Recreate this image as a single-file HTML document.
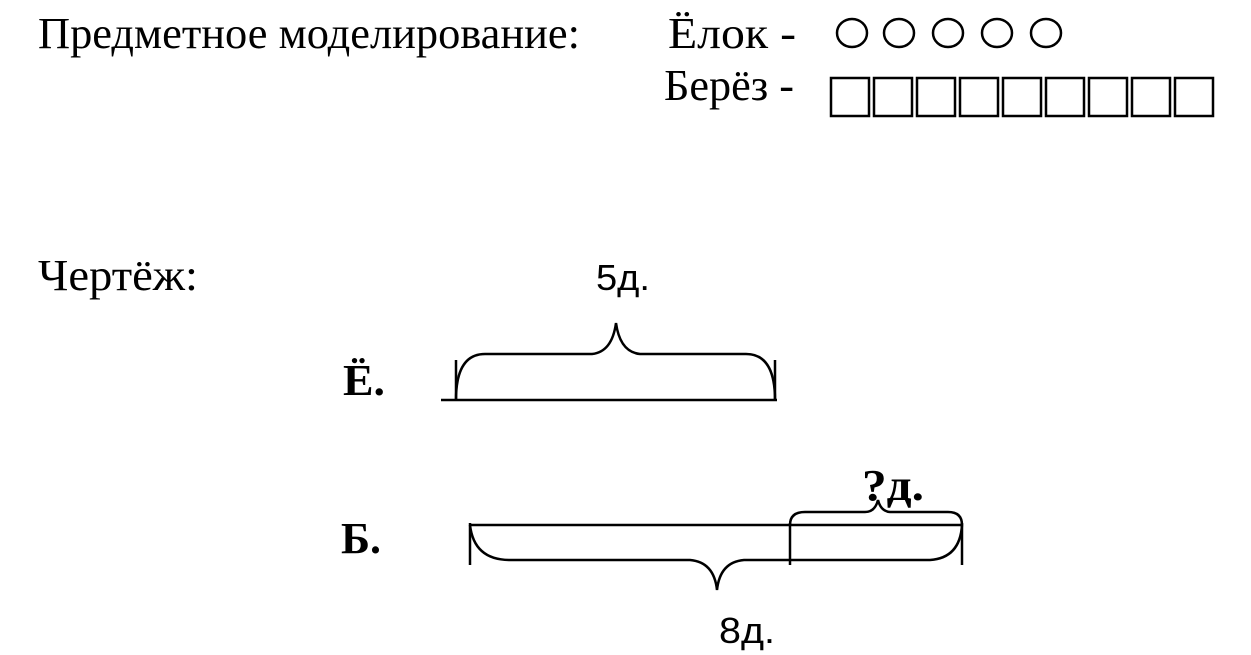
<!DOCTYPE html>
<html><head><meta charset="utf-8"><style>
html,body{margin:0;padding:0;background:#fff;width:1251px;height:655px;overflow:hidden}
</style></head><body>
<svg width="1251" height="655" viewBox="0 0 1251 655" xmlns="http://www.w3.org/2000/svg">
<g font-family="Liberation Serif, serif" font-size="44" fill="#000">
<text x="38" y="48" textLength="542" lengthAdjust="spacingAndGlyphs">Предметное моделирование:</text>
<text x="668" y="48" textLength="128" lengthAdjust="spacingAndGlyphs">Ёлок -</text>
<text x="664" y="100" textLength="130" lengthAdjust="spacingAndGlyphs">Берёз -</text>
<text x="38" y="290" textLength="160" lengthAdjust="spacingAndGlyphs">Чертёж:</text>
</g>
<g font-family="Liberation Serif, serif" font-weight="bold" fill="#000">
<text x="343" y="395" font-size="44" textLength="42" lengthAdjust="spacingAndGlyphs">Ё.</text>
<text x="341" y="553" font-size="44" textLength="40" lengthAdjust="spacingAndGlyphs">Б.</text>
<text x="862" y="500" font-size="44" textLength="62" lengthAdjust="spacingAndGlyphs">?д.</text>
</g>
<g font-family="Liberation Sans, sans-serif" font-size="36" fill="#000">
<text x="596" y="290" textLength="54" lengthAdjust="spacingAndGlyphs">5д.</text>
<text x="719" y="643" textLength="56" lengthAdjust="spacingAndGlyphs">8д.</text>
</g>
<g fill="none" stroke="#000" stroke-width="2.5">
<ellipse cx="852" cy="33" rx="15" ry="14"/>
<ellipse cx="899" cy="33" rx="15" ry="14"/>
<ellipse cx="948" cy="33" rx="15" ry="14"/>
<ellipse cx="997" cy="33" rx="15" ry="14"/>
<ellipse cx="1046" cy="33" rx="15" ry="14"/>
<rect x="831" y="78" width="38" height="38"/>
<rect x="874" y="78" width="38" height="38"/>
<rect x="917" y="78" width="38" height="38"/>
<rect x="960" y="78" width="38" height="38"/>
<rect x="1003" y="78" width="38" height="38"/>
<rect x="1046" y="78" width="38" height="38"/>
<rect x="1089" y="78" width="38" height="38"/>
<rect x="1132" y="78" width="38" height="38"/>
<rect x="1175" y="78" width="38" height="38"/>
<line x1="441" y1="400" x2="777" y2="400"/>
<line x1="456" y1="360" x2="456" y2="400"/>
<line x1="775" y1="360" x2="775" y2="400"/>
<path d="M456 400 Q456 354 485 354 L592 354 Q612 352 616 323 Q620 352 640 354 L746 354 Q775 354 775 400"/>
<line x1="470" y1="525" x2="963" y2="525"/>
<line x1="470" y1="523" x2="470" y2="565"/>
<line x1="790" y1="523" x2="790" y2="565"/>
<line x1="962" y1="523" x2="962" y2="565"/>
<path d="M470 525 Q474 560 510 560 L690 560 Q714 562 717 590 Q720 562 744 560 L930 560 Q960 558 962 525"/>
<path d="M790 525 Q790 512 805 512 L865 512 Q875 512 878 500 Q881 512 891 512 L948 512 Q962 512 962 525"/>
</g>
</svg>
</body></html>
